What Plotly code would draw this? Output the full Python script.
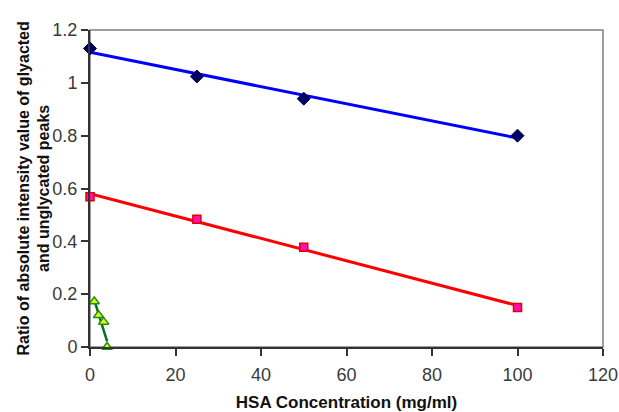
import numpy as np
import plotly.graph_objects as go

# Data
x_main = [0, 25, 50, 100]
blue_vals = [1.13, 1.024, 0.94, 0.80]
red_vals = [0.569, 0.484, 0.378, 0.15]
x_green = [1, 2, 3.2, 4]
green_vals = [0.172, 0.12, 0.095, 0.0]

x_ticks = [0, 20, 40, 60, 80, 100, 120]
y_ticks = [0, 0.2, 0.4, 0.6, 0.8, 1, 1.2]

def fit(xs, ys):
    k, b = np.polyfit(xs, ys, 1)
    xx = np.array([min(xs), max(xs)], dtype=float)
    return xx, k * xx + b

fig = go.Figure()

# trend lines
for xs, ys, col, w in [(x_main, blue_vals, "#0000FF", 3),
                       (x_main, red_vals, "#FF0000", 3),
                       (x_green, green_vals, "#0A6E1A", 2.5)]:
    fx, fy = fit(xs, ys)
    fig.add_trace(go.Scatter(x=fx, y=fy, mode="lines", line=dict(color=col, width=w),
                             showlegend=False, cliponaxis=False, hoverinfo="skip"))

fig.add_trace(go.Scatter(x=x_main, y=blue_vals, mode="markers", cliponaxis=False,
                         marker=dict(symbol="diamond", size=10, color="#000066",
                                     line=dict(color="#000044", width=1)),
                         showlegend=False))
fig.add_trace(go.Scatter(x=x_main, y=red_vals, mode="markers", cliponaxis=False,
                         marker=dict(symbol="square", size=8, color="#FF10B0",
                                     line=dict(color="#E00000", width=1.5)),
                         showlegend=False))
fig.add_trace(go.Scatter(x=x_green, y=green_vals, mode="markers", cliponaxis=False,
                         marker=dict(symbol="triangle-up", size=9, color="#DDFF00",
                                     line=dict(color="#228B22", width=1.5)),
                         showlegend=False))

# plot area border
fig.add_shape(type="rect", xref="paper", yref="paper", x0=0, y0=0, x1=1, y1=1,
              line=dict(color="#808080", width=1.5), layer="below")

# y-axis title as rotated annotation
fig.add_annotation(text="<b>Ratio of absolute intensity value of glyacted<br>and unglycated peaks</b>",
                   xref="paper", yref="paper", x=(33 - 90) / 513, y=0.5,
                   xanchor="center", yanchor="middle", textangle=-90, showarrow=False,
                   font=dict(family="Liberation Sans Narrow, Arial Narrow, Liberation Sans, sans-serif",
                             size=16, color="#111111"))

tickfont = dict(family="Liberation Sans, Arial, sans-serif", size=18, color="#3a3a3a")
fig.update_layout(
    width=619, height=412,
    margin=dict(l=90, r=16, t=30, b=65),
    paper_bgcolor="white", plot_bgcolor="white",
    xaxis=dict(range=[0, 120], tickvals=x_ticks, ticktext=[str(v) for v in x_ticks],
               automargin=False,
               showgrid=False, zeroline=False, showline=True, linecolor="#333333", linewidth=2,
               ticks="outside", ticklen=7, tickcolor="#333333", tickwidth=1.5,
               tickfont=tickfont, ticklabelstandoff=3,
               title=dict(text="<b>HSA Concentration (mg/ml)</b>", standoff=14,
                          font=dict(family="Liberation Sans, Arial, sans-serif", size=17, color="#111111"))),
    yaxis=dict(range=[0, 1.2], tickvals=y_ticks, ticktext=["0", "0.2", "0.4", "0.6", "0.8", "1", "1.2"],
               automargin=False,
               showgrid=False, zeroline=False, showline=True, linecolor="#333333", linewidth=2,
               ticks="outside", ticklen=7, tickcolor="#333333", tickwidth=1.5,
               tickfont=tickfont, ticklabelstandoff=0),
)

fig.write_html("out.html")
